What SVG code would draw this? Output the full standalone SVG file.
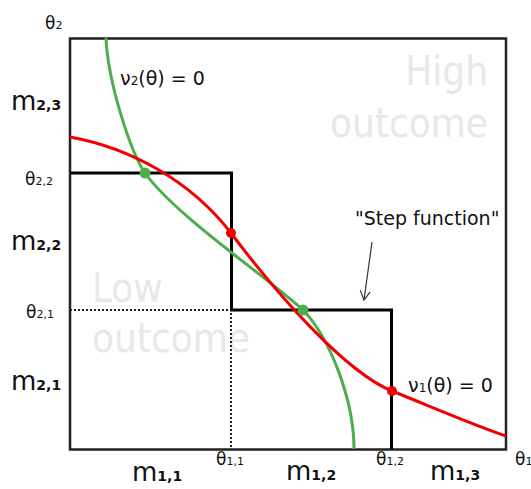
<svg xmlns="http://www.w3.org/2000/svg" width="531" height="489" viewBox="0 0 531 489">
<style>
text{font-family:"DejaVu Sans","Liberation Sans",sans-serif;fill:#111}
.big{font-size:26px}
.sb{font-size:14px;font-weight:bold}
.th{font-size:17px}
.ts{font-size:11px}
.bg{font-family:"DejaVu Sans Condensed","DejaVu Sans",sans-serif;font-size:40px;fill:#e8e8e8}
.frame{fill:none;stroke:#222;stroke-width:2.5}
.step{fill:none;stroke:#000;stroke-width:3}
.dot{fill:none;stroke:#222;stroke-width:2;stroke-dasharray:2 2}
.red{fill:none;stroke:#f00000;stroke-width:3}
.green{fill:none;stroke:#4cae4c;stroke-width:3}
</style>
<defs>
<marker id="ah" markerWidth="12" markerHeight="12" refX="10" refY="6" orient="auto" markerUnits="userSpaceOnUse">
<path d="M1,1 L10,6 L1,11" fill="none" stroke="#333" stroke-width="1.2"/>
</marker>
</defs>
<g id="background-labels">
<text class="bg" x="488" y="85" text-anchor="end">High</text>
<text class="bg" x="488" y="137" text-anchor="end">outcome</text>
<text class="bg" x="92" y="302">Low</text>
<text class="bg" x="92" y="352">outcome</text>
</g>
<g id="frame">
<rect class="frame" x="70" y="38.5" width="436" height="411"/>
</g>
<g id="connectors">
<path class="dot" d="M70,310 H231 V449"/>
<path class="step" d="M70,173 H231.5 V310 H391.5 V449"/>
<path class="green" d="M106,38 C108,83 131,153 145,173 C175,215 263,274 303,310 C330,338 354,400 354,449"/>
<path class="red" d="M70,137 C130,148 190,180 231,233 C276,293 345,372 392,391 C432,407 471,424 506,436"/>
<line x1="372" y1="242" x2="364" y2="300" stroke="#333" stroke-width="1.2" marker-end="url(#ah)"/>
</g>
<g id="points">
<circle cx="231" cy="233" r="5" fill="#f00000"/>
<circle cx="392" cy="391" r="5" fill="#f00000"/>
<circle cx="145" cy="173" r="5.5" fill="#4cae4c"/>
<circle cx="303" cy="310" r="5.5" fill="#4cae4c"/>
</g>
<g id="curve-labels">
<text x="120" y="85" font-size="19">ν<tspan font-size="12">2</tspan>(θ) = 0</text>
<text x="408" y="392" font-size="19">ν<tspan font-size="12">1</tspan>(θ) = 0</text>
<text x="355" y="225" font-size="19">"Step function"</text>
</g>
<g id="axis-labels">
<text class="th" x="45" y="29">θ<tspan class="ts">2</tspan></text>
<text class="th" x="515" y="465">θ<tspan class="ts">1</tspan></text>
<text class="big" x="11" y="110">m<tspan class="sb">2,3</tspan></text>
<text class="big" x="11" y="250">m<tspan class="sb">2,2</tspan></text>
<text class="big" x="11" y="390">m<tspan class="sb">2,1</tspan></text>
<text class="th" x="25" y="185">θ<tspan class="ts">2,2</tspan></text>
<text class="th" x="26" y="318">θ<tspan class="ts">2,1</tspan></text>
<text class="big" x="132" y="481">m<tspan class="sb">1,1</tspan></text>
<text class="big" x="286" y="480">m<tspan class="sb">1,2</tspan></text>
<text class="big" x="430" y="480">m<tspan class="sb">1,3</tspan></text>
<text class="th" x="216" y="465">θ<tspan class="ts">1,1</tspan></text>
<text class="th" x="376" y="465">θ<tspan class="ts">1,2</tspan></text>
</g>
</svg>
